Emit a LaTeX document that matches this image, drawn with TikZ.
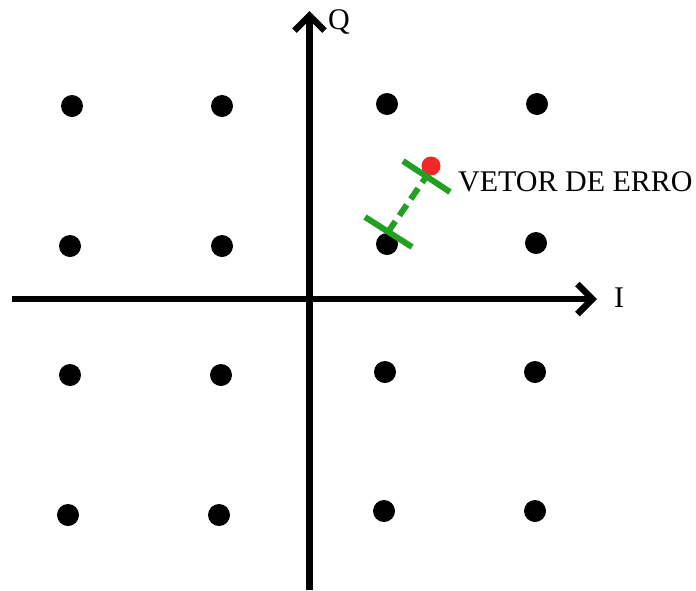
\documentclass[tikz,border=0pt]{standalone}
\usepackage{fontspec}
\setmainfont{Liberation Serif}
\usetikzlibrary{arrows.meta}
\definecolor{errgreen}{RGB}{34,160,34}
\definecolor{errred}{RGB}{240,40,40}
\tikzset{
  axis/.style={line width=6.5pt,-{Straight Barb[length=15pt,width=30pt,line width=6.5pt]}},
  sym/.style={circle,fill=black,minimum size=22pt,inner sep=0pt},
  rx/.style={circle,fill=errred,minimum size=19pt,inner sep=0pt},
  lbl/.style={font=\fontsize{30}{32}\selectfont,inner sep=0pt},
  tick/.style={errgreen,line width=6pt},
  vec/.style={errgreen,line width=6pt,dash pattern=on 13pt off 7pt}
}
\begin{document}
\begin{tikzpicture}[x=1pt,y=-1pt]
\useasboundingbox (0,0) rectangle (696,590);
% axes
\coordinate (il) at (12,299);
\coordinate (ir) at (597,299);
\coordinate (qb) at (309.5,590);
\coordinate (qt) at (309.5,11);
\draw[axis] (il) -- (ir);
\draw[axis] (qb) -- (qt);
\node[lbl,anchor=west] (ilab) at (614,298) {I};
\node[lbl,anchor=west] (qlab) at (328,22) {Q};
% constellation
\node[sym] (s11) at (72,106) {};
\node[sym] (s12) at (222,106) {};
\node[sym] (s13) at (387,104) {};
\node[sym] (s14) at (537,104) {};
\node[sym] (s21) at (70,246) {};
\node[sym] (s22) at (222,246) {};
\node[sym] (s23) at (387,244) {};
\node[sym] (s24) at (536,243) {};
\node[sym] (s31) at (70,375) {};
\node[sym] (s32) at (221,375) {};
\node[sym] (s33) at (385,372) {};
\node[sym] (s34) at (535,372) {};
\node[sym] (s41) at (68,515) {};
\node[sym] (s42) at (219,515) {};
\node[sym] (s43) at (384,511) {};
\node[sym] (s44) at (535,511) {};
% received point and error vector
\node[rx] (r) at (431,166) {};
\coordinate (ta) at (388,232);
\coordinate (tb) at (426,177);
\coordinate (ta1) at (365,217);
\coordinate (ta2) at (412,247);
\coordinate (tb1) at (403,161);
\coordinate (tb2) at (450,192);
\draw[vec] (ta) -- (tb);
\draw[tick] (ta1) -- (ta2);
\draw[tick] (tb1) -- (tb2);
\node[lbl,anchor=base west] (err) at (458,191) {VETOR DE ERRO};
\end{tikzpicture}
\end{document}
